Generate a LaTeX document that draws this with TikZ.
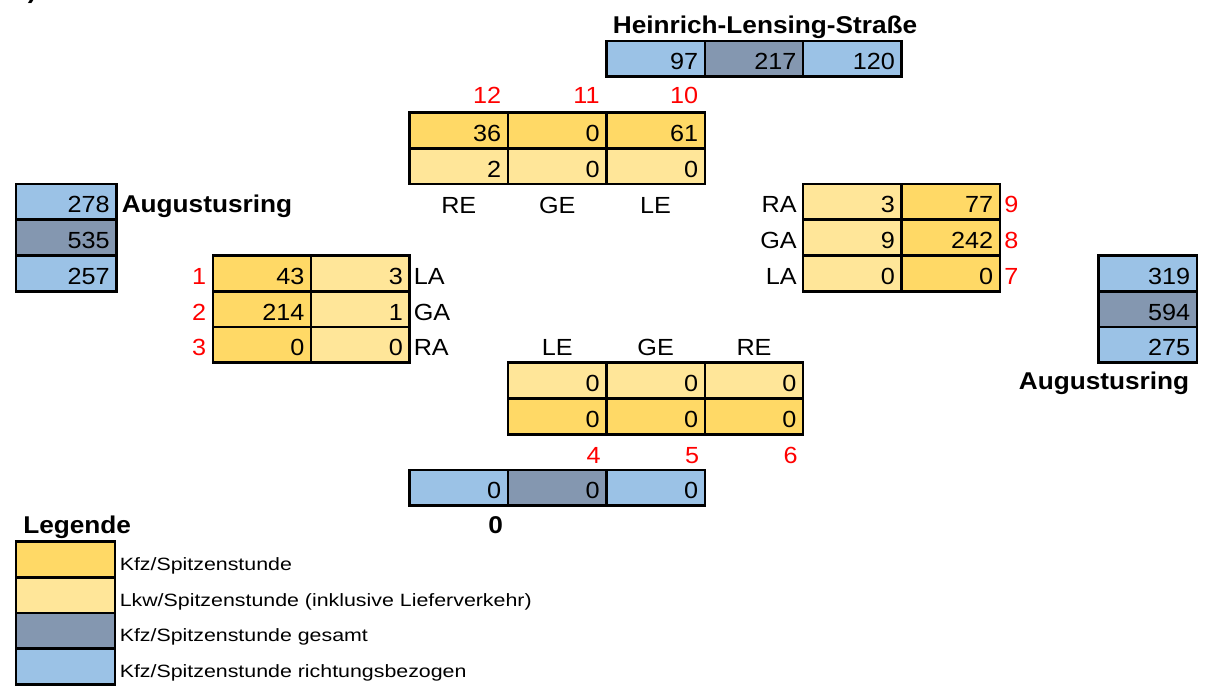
\documentclass[tikz,border=0pt]{standalone}
\usepackage{fontspec}
\setmainfont{Liberation Sans}[FakeStretch=1.08]
\newfontfamily\legfont{Liberation Sans}[FakeStretch=1.2]
\definecolor{kfz}{RGB}{255,217,102}
\definecolor{lkw}{RGB}{255,230,153}
\definecolor{ges}{RGB}{132,151,176}
\definecolor{ric}{RGB}{155,194,230}
\definecolor{rednum}{RGB}{255,0,0}
% name, x1, y1, x2, y2, fill, text
\newcommand{\cellbox}[7]{%
  \filldraw[cellline,fill=#6] (#2,#3) rectangle (#4,#5);
  \node[num] (#1) at (#4-6.5,#5-7) {#7};
}
\begin{document}
\begin{tikzpicture}[x=0.75pt,y=-0.75pt,
  cellline/.style={draw=black,line width=1.9pt},
  num/.style={anchor=base east,inner sep=0pt,font=\fontsize{17.5}{20}\selectfont},
  lbl/.style={inner sep=0pt,font=\fontsize{17.5}{20}\selectfont},
  rlbl/.style={inner sep=0pt,text=rednum,font=\fontsize{17.5}{20}\selectfont},
  blbl/.style={inner sep=0pt,font=\fontsize{18.2}{21}\selectfont\bfseries},
  leg/.style={inner sep=0pt,anchor=base west,font=\fontsize{13.35}{15}\selectfont\legfont}]
\useasboundingbox (0,0) rectangle (1210,690);

\node[blbl,anchor=base west] (capfrag) at (27.7,-1.5) {)};

% Heinrich-Lensing-Strasse
\node[blbl,anchor=base] (hls) at (765,33.3) {Heinrich-Lensing-Straße};
\cellbox{t1}{606.4}{41}{704.8}{76.75}{ric}{97}
\cellbox{t2}{704.8}{41}{803.2}{76.75}{ges}{217}
\cellbox{t3}{803.2}{41}{901.6}{76.75}{ric}{120}

% top approach
\node[rlbl,anchor=base east] (n12) at (501.5,103.3) {12};
\node[rlbl,anchor=base east] (n11) at (599.9,103.3) {11};
\node[rlbl,anchor=base east] (n10) at (698.3,103.3) {10};
\cellbox{a1}{409.6}{112.5}{508}{148.25}{kfz}{36}
\cellbox{a2}{508}{112.5}{606.4}{148.25}{kfz}{0}
\cellbox{a3}{606.4}{112.5}{704.8}{148.25}{kfz}{61}
\cellbox{a4}{409.6}{148.25}{508}{184}{lkw}{2}
\cellbox{a5}{508}{148.25}{606.4}{184}{lkw}{0}
\cellbox{a6}{606.4}{148.25}{704.8}{184}{lkw}{0}
\node[lbl,anchor=base] (tre) at (458.8,213) {RE};
\node[lbl,anchor=base] (tge) at (557.2,213) {GE};
\node[lbl,anchor=base] (tle) at (655.6,213) {LE};

% left street
\cellbox{l1}{16}{184}{116.5}{219.75}{ric}{278}
\cellbox{l2}{16}{219.75}{116.5}{255.5}{ges}{535}
\cellbox{l3}{16}{255.5}{116.5}{291.25}{ric}{257}
\node[blbl,anchor=base west] (aul) at (121.5,212) {Augustusring};

% left approach
\cellbox{b1}{212.8}{255.5}{311.2}{291.25}{kfz}{43}
\cellbox{b2}{311.2}{255.5}{409.6}{291.25}{lkw}{3}
\cellbox{b3}{212.8}{291.25}{311.2}{327}{kfz}{214}
\cellbox{b4}{311.2}{291.25}{409.6}{327}{lkw}{1}
\cellbox{b5}{212.8}{327}{311.2}{362.75}{kfz}{0}
\cellbox{b6}{311.2}{327}{409.6}{362.75}{lkw}{0}
\node[rlbl,anchor=base east] (n1) at (206.5,284.25) {1};
\node[rlbl,anchor=base east] (n2) at (206.5,320) {2};
\node[rlbl,anchor=base east] (n3) at (206.5,355.75) {3};
\node[lbl,anchor=base west] (lla) at (413.5,284.25) {LA};
\node[lbl,anchor=base west] (lga) at (413.5,320) {GA};
\node[lbl,anchor=base west] (lra) at (413.5,355.75) {RA};

% right approach
\cellbox{c1}{803.2}{184}{901.6}{219.75}{lkw}{3}
\cellbox{c2}{901.6}{184}{1000}{219.75}{kfz}{77}
\cellbox{c3}{803.2}{219.75}{901.6}{255.5}{lkw}{9}
\cellbox{c4}{901.6}{219.75}{1000}{255.5}{kfz}{242}
\cellbox{c5}{803.2}{255.5}{901.6}{291.25}{lkw}{0}
\cellbox{c6}{901.6}{255.5}{1000}{291.25}{kfz}{0}
\node[lbl,anchor=base east] (rra) at (797,212.75) {RA};
\node[lbl,anchor=base east] (rga) at (797,248.5) {GA};
\node[lbl,anchor=base east] (rla) at (797,284.25) {LA};
\node[rlbl,anchor=base west] (n9) at (1004,212.75) {9};
\node[rlbl,anchor=base west] (n8) at (1004,248.5) {8};
\node[rlbl,anchor=base west] (n7) at (1004,284.25) {7};

% right street
\cellbox{r1}{1098.4}{255.5}{1196.8}{291.25}{ric}{319}
\cellbox{r2}{1098.4}{291.25}{1196.8}{327}{ges}{594}
\cellbox{r3}{1098.4}{327}{1196.8}{362.75}{ric}{275}
\node[blbl,anchor=base] (aur) at (1104,389) {Augustusring};

% bottom approach
\node[lbl,anchor=base] (ble) at (557.2,355.7) {LE};
\node[lbl,anchor=base] (bge) at (655.6,355.7) {GE};
\node[lbl,anchor=base] (bre) at (754,355.7) {RE};
\cellbox{d1}{508}{362.75}{606.4}{398.5}{lkw}{0}
\cellbox{d2}{606.4}{362.75}{704.8}{398.5}{lkw}{0}
\cellbox{d3}{704.8}{362.75}{803.2}{398.5}{lkw}{0}
\cellbox{d4}{508}{398.5}{606.4}{434.25}{kfz}{0}
\cellbox{d5}{606.4}{398.5}{704.8}{434.25}{kfz}{0}
\cellbox{d6}{704.8}{398.5}{803.2}{434.25}{kfz}{0}
\node[rlbl,anchor=base east] (n4) at (601,463) {4};
\node[rlbl,anchor=base east] (n5) at (699.4,463) {5};
\node[rlbl,anchor=base east] (n6) at (797.8,463) {6};

% bottom street
\cellbox{s1}{409.6}{470}{508}{505.75}{ric}{0}
\cellbox{s2}{508}{470}{606.4}{505.75}{ges}{0}
\cellbox{s3}{606.4}{470}{704.8}{505.75}{ric}{0}
\node[blbl,anchor=base] (bzero) at (495.6,533) {0};

% legend
\node[blbl,anchor=base west] (legt) at (23,533) {Legende};
\filldraw[cellline,fill=kfz] (16,541.5) rectangle (115,577.25);
\filldraw[cellline,fill=lkw] (16,577.25) rectangle (115,613);
\filldraw[cellline,fill=ges] (16,613) rectangle (115,648.75);
\filldraw[cellline,fill=ric] (16,648.75) rectangle (115,684.5);
\node[leg] (lg1) at (119.5,570.25) {Kfz/Spitzenstunde};
\node[leg] (lg2) at (119.5,606) {Lkw/Spitzenstunde (inklusive Lieferverkehr)};
\node[leg] (lg3) at (119.5,641.75) {Kfz/Spitzenstunde gesamt};
\node[leg] (lg4) at (119.5,677.5) {Kfz/Spitzenstunde richtungsbezogen};
\end{tikzpicture}
\end{document}
